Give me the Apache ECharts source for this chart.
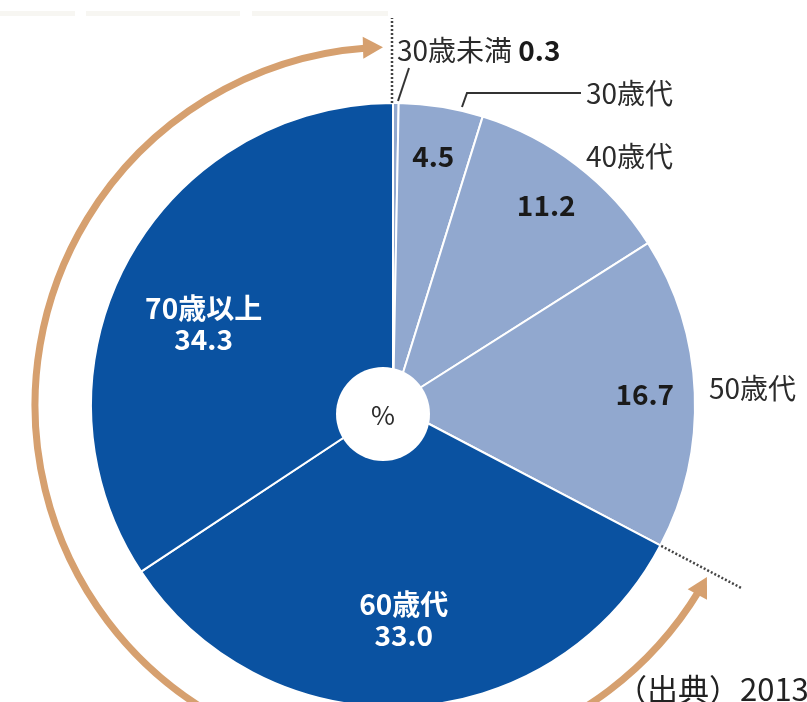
<!DOCTYPE html>
<html>
<head>
<meta charset="utf-8">
<script src="https://cdn.jsdelivr.net/npm/echarts@6/dist/echarts.min.js"></script>
<style>
  html, body { margin: 0; padding: 0; background: #fff; }
  #chart { width: 807px; height: 702px; }
</style>
</head>
<body>
<div id="chart"></div>
<script>
// Age groups and their shares (%)
const ageGroups = ['30歳未満', '30歳代', '40歳代', '50歳代', '60歳代', '70歳以上'];
const shares = [0.3, 4.5, 11.2, 16.7, 33.0, 34.3];
const centerSymbol = '%';
const sourceNote = '（出典）2013';

// Layout and styling
const FONT = '"Noto Sans CJK JP", "Noto Sans", sans-serif';
const CX = 393, CY = 405, R = 302;          // pie centre and radius
const ACX = 393, ACY = 405, ACR = 358;      // surrounding arrow arc
const LIGHT = '#91a8cf', DARK = '#0a52a1', ARROW = '#d6a06f', INK = '#2b2b2b';
const sliceColors = [LIGHT, LIGHT, LIGHT, LIGHT, DARK, DARK];
// left-middle anchors of the outside name labels (first four groups)
const nameAnchors = [[397, 50], [586, 93], [586, 156], [709, 388]];
// guide lines for the two narrow slices
const leaderLines = [
  [[398, 101], [409, 68]],
  [[462, 107], [467, 93], [581, 93]]
];

const total = shares.reduce((a, b) => a + b, 0);
const startDeg = [];
let acc = 0;
shares.forEach(v => { startDeg.push(acc / total * 360); acc += v; });

// angle measured clockwise from 12 o'clock
function polar(deg, r, cx = CX, cy = CY) {
  const a = deg * Math.PI / 180;
  return [cx + r * Math.sin(a), cy - r * Math.cos(a)];
}

const HL = 20, HW = 22;
function arrowHead(theta, dir) {
  const tip = polar(theta, ACR, ACX, ACY);
  const a = theta * Math.PI / 180;
  const d = [dir * Math.cos(a), dir * Math.sin(a)];
  const n = [-d[1], d[0]];
  const b = [tip[0] - d[0] * HL, tip[1] - d[1] * HL];
  return [tip, [b[0] + n[0] * HW / 2, b[1] + n[1] * HW / 2], [b[0] - n[0] * HW / 2, b[1] - n[1] * HW / 2]];
}

// the arrow spans the 60+ groups
const seniorStart = startDeg[4];
const tipLow = seniorStart + 1;
const tipTop = 360 - 1.6;
const headDeg = HL / ACR * 180 / Math.PI * 0.8;
const toCanvas = deg => (deg - 90) * Math.PI / 180;

const pieBase = {
  type: 'pie', center: [CX, CY], startAngle: 90, clockwise: true,
  avoidLabelOverlap: false, animation: false, emphasis: { disabled: true }
};

const chart = echarts.init(document.getElementById('chart'), null, { renderer: 'canvas' });

chart.setOption({
  backgroundColor: '#fff',
  series: [
    {
      ...pieBase,
      name: '年齢構成',
      radius: [0, R],
      z: 2,
      itemStyle: { borderColor: '#fff', borderWidth: 2 },
      data: ageGroups.map((n, i) => ({
        name: n, value: shares[i],
        itemStyle: { color: sliceColors[i] },
        label: { show: i < 4 }
      })),
      label: {
        position: 'outside',
        color: INK, fontFamily: FONT, fontSize: 28,
        formatter: p => p.dataIndex === 0
          ? `{n|${p.name}} {v|${p.value.toFixed(1)}}`
          : `{n|${p.name}}`,
        rich: {
          n: { fontSize: 28, color: INK, fontFamily: FONT },
          v: { fontSize: 28, color: '#1a1a1a', fontFamily: FONT, fontWeight: 'bold' }
        }
      },
      labelLine: { show: false },
      labelLayout: p => p.dataIndex < 4 ? {
        x: nameAnchors[p.dataIndex][0], y: nameAnchors[p.dataIndex][1],
        align: 'left', verticalAlign: 'middle'
      } : {}
    },
    {
      // value labels for the lighter slices
      ...pieBase,
      name: '値',
      radius: [0, 498],
      z: 3, silent: true,
      itemStyle: { color: 'rgba(0,0,0,0)', borderWidth: 0 },
      data: ageGroups.map((n, i) => ({
        name: n, value: shares[i],
        label: { show: i >= 1 && i <= 3 }
      })),
      label: {
        position: 'inside', color: '#1a1a1a', fontFamily: FONT,
        fontSize: 28, fontWeight: 'bold',
        formatter: p => p.value.toFixed(1)
      },
      labelLine: { show: false }
    },
    {
      // name + value labels for the darker slices
      ...pieBase,
      name: '値2',
      radius: [0, 424],
      z: 3, silent: true,
      itemStyle: { color: 'rgba(0,0,0,0)', borderWidth: 0 },
      data: ageGroups.map((n, i) => ({
        name: n, value: shares[i],
        label: { show: i >= 4 }
      })),
      label: {
        position: 'inside', color: '#fff', fontFamily: FONT,
        fontSize: 28, fontWeight: 'bold', lineHeight: 31,
        formatter: p => `${p.name}\n${p.value.toFixed(1)}`
      },
      labelLine: { show: false },
      labelLayout: p => p.dataIndex === 5 ? { dy: 21 } : {}
    }
  ],
  graphic: [
    // faint header strip
    { type: 'rect', shape: { x: 0, y: 11, width: 75, height: 5 }, style: { fill: '#f7f6f2' }, z: 1 },
    { type: 'rect', shape: { x: 86, y: 11, width: 154, height: 5 }, style: { fill: '#f7f6f2' }, z: 1 },
    { type: 'rect', shape: { x: 252, y: 11, width: 136, height: 5 }, style: { fill: '#f7f6f2' }, z: 1 },
    // centre hole
    { type: 'circle', shape: { cx: 383, cy: 414, r: 47 }, style: { fill: '#fff' }, z: 20 },
    {
      type: 'text', x: 383, y: 415, z: 21,
      style: { text: centerSymbol, fill: INK, font: '26px ' + FONT, align: 'center', verticalAlign: 'middle', textAlign: 'center', textVerticalAlign: 'middle' }
    },
    // dotted boundary extensions
    (() => {
      const p1 = polar(0, R), p2 = polar(0, CY - 18);
      return { type: 'line', z: 15, shape: { x1: p1[0] - 1, y1: p1[1], x2: p2[0] - 1, y2: p2[1] },
        style: { stroke: '#444', lineWidth: 2.5, lineDash: [2, 2] } };
    })(),
    (() => {
      const p1 = polar(seniorStart, R + 1), p2 = polar(seniorStart, R + 92);
      return { type: 'line', z: 15, shape: { x1: p1[0], y1: p1[1], x2: p2[0], y2: p2[1] },
        style: { stroke: '#444', lineWidth: 2.5, lineDash: [2, 2] } };
    })(),
    // leader lines
    ...leaderLines.map(pts => ({
      type: 'polyline', z: 15, shape: { points: pts },
      style: { stroke: '#333', lineWidth: 2, fill: null }
    })),
    // arrow around the 60+ share
    {
      type: 'arc', z: 12,
      shape: { cx: ACX, cy: ACY, r: ACR, startAngle: toCanvas(tipLow + headDeg), endAngle: toCanvas(tipTop - headDeg), clockwise: true },
      style: { stroke: ARROW, lineWidth: 7, fill: null }
    },
    { type: 'polygon', z: 12, shape: { points: arrowHead(tipTop, 1) }, style: { fill: ARROW } },
    { type: 'polygon', z: 12, shape: { points: arrowHead(tipLow, -1) }, style: { fill: ARROW } },
    // source note
    {
      type: 'text', x: 616, y: 689, z: 21,
      style: { text: sourceNote, fill: '#222', font: '31px ' + FONT, align: 'left', verticalAlign: 'middle', textAlign: 'left', textVerticalAlign: 'middle' }
    }
  ]
});
</script>
</body>
</html>
